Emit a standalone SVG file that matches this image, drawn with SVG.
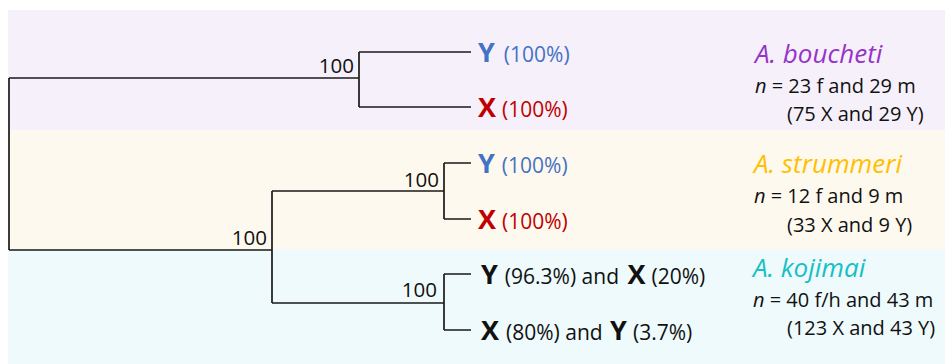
<svg xmlns="http://www.w3.org/2000/svg" width="945" height="364" viewBox="0 0 945 364">
<style>
text{font-family:"Open Sans","Liberation Sans",sans-serif;font-size:21px;fill:#111}
.b{font-weight:bold;font-size:27px}
.bl{fill:#4472C4}
.rd{fill:#C00000}
.sp{font-style:italic;font-size:26px}
.it{font-style:italic}
.r{font-size:20px}
.bs{text-anchor:end;font-size:20.5px}
.edge{fill:none;stroke:#1a1a1a;stroke-width:1.7}
</style>
<rect x="0" y="0" width="945" height="364" fill="#fff"/>
<rect x="8" y="10" width="937" height="120" fill="#F5F0F9"/>
<rect x="8" y="130" width="937" height="119" fill="#FEF9EF"/>
<rect x="8" y="249" width="937" height="115" fill="#EEFAFB"/>
<g id="connectors">
<path class="edge" d="M9,78 V250"/>
<path class="edge" d="M9,78 H359 M359,52 V107 M359,52 H471 M359,107 H471"/>
<path class="edge" d="M9,250 H272 M272,191 V303"/>
<path class="edge" d="M272,191 H444 M444,163 V219 M444,163 H471 M444,219 H471"/>
<path class="edge" d="M272,303 H444 M444,274 V330 M444,274 H471 M444,330 H471"/>
</g>
<g id="support">
<text class="bs" x="354" y="73">100</text>
<text class="bs" x="439" y="187">100</text>
<text class="bs" x="267" y="245">100</text>
<text class="bs" x="437" y="297">100</text>
</g>
<g id="tip1"><text x="478" y="62"><tspan class="b bl">Y</tspan><tspan class="bl" dx="9">(100%)</tspan></text></g>
<g id="tip2"><text x="478" y="117"><tspan class="b rd">X</tspan><tspan class="rd" dx="6">(100%)</tspan></text></g>
<g id="tip3"><text x="478" y="172.5"><tspan class="b bl">Y</tspan><tspan class="bl" dx="7">(100%)</tspan></text></g>
<g id="tip4"><text x="478" y="228.5"><tspan class="b rd">X</tspan><tspan class="rd" dx="6">(100%)</tspan></text></g>
<g id="tip5"><text x="481" y="284"><tspan class="b">Y</tspan><tspan dx="7">(96.3%) and </tspan><tspan class="b" dx="3">X</tspan><tspan dx="6">(20%)</tspan></text></g>
<g id="tip6"><text x="481" y="340"><tspan class="b">X</tspan><tspan dx="7">(80%) and </tspan><tspan class="b" dx="2">Y</tspan><tspan dx="6">(3.7%)</tspan></text></g>
<g id="boucheti">
<text class="sp" x="755" y="63" style="fill:#9634C8">A. boucheti</text>
<text class="r" x="755" y="93"><tspan class="it">n</tspan> = 23 f and 29 m</text>
<text class="r" x="787" y="121">(75 X and 29 Y)</text>
</g>
<g id="strummeri">
<text class="sp" x="754" y="173" style="fill:#FFC000">A. strummeri</text>
<text class="r" x="754" y="203"><tspan class="it">n</tspan> = 12 f and 9 m</text>
<text class="r" x="787" y="231.5">(33 X and 9 Y)</text>
</g>
<g id="kojimai">
<text class="sp" x="753" y="277" style="fill:#17BFC6">A. kojimai</text>
<text class="r" x="753" y="307"><tspan class="it">n</tspan> = 40 f/h and 43 m</text>
<text class="r" x="787" y="335">(123 X and 43 Y)</text>
</g>
</svg>
